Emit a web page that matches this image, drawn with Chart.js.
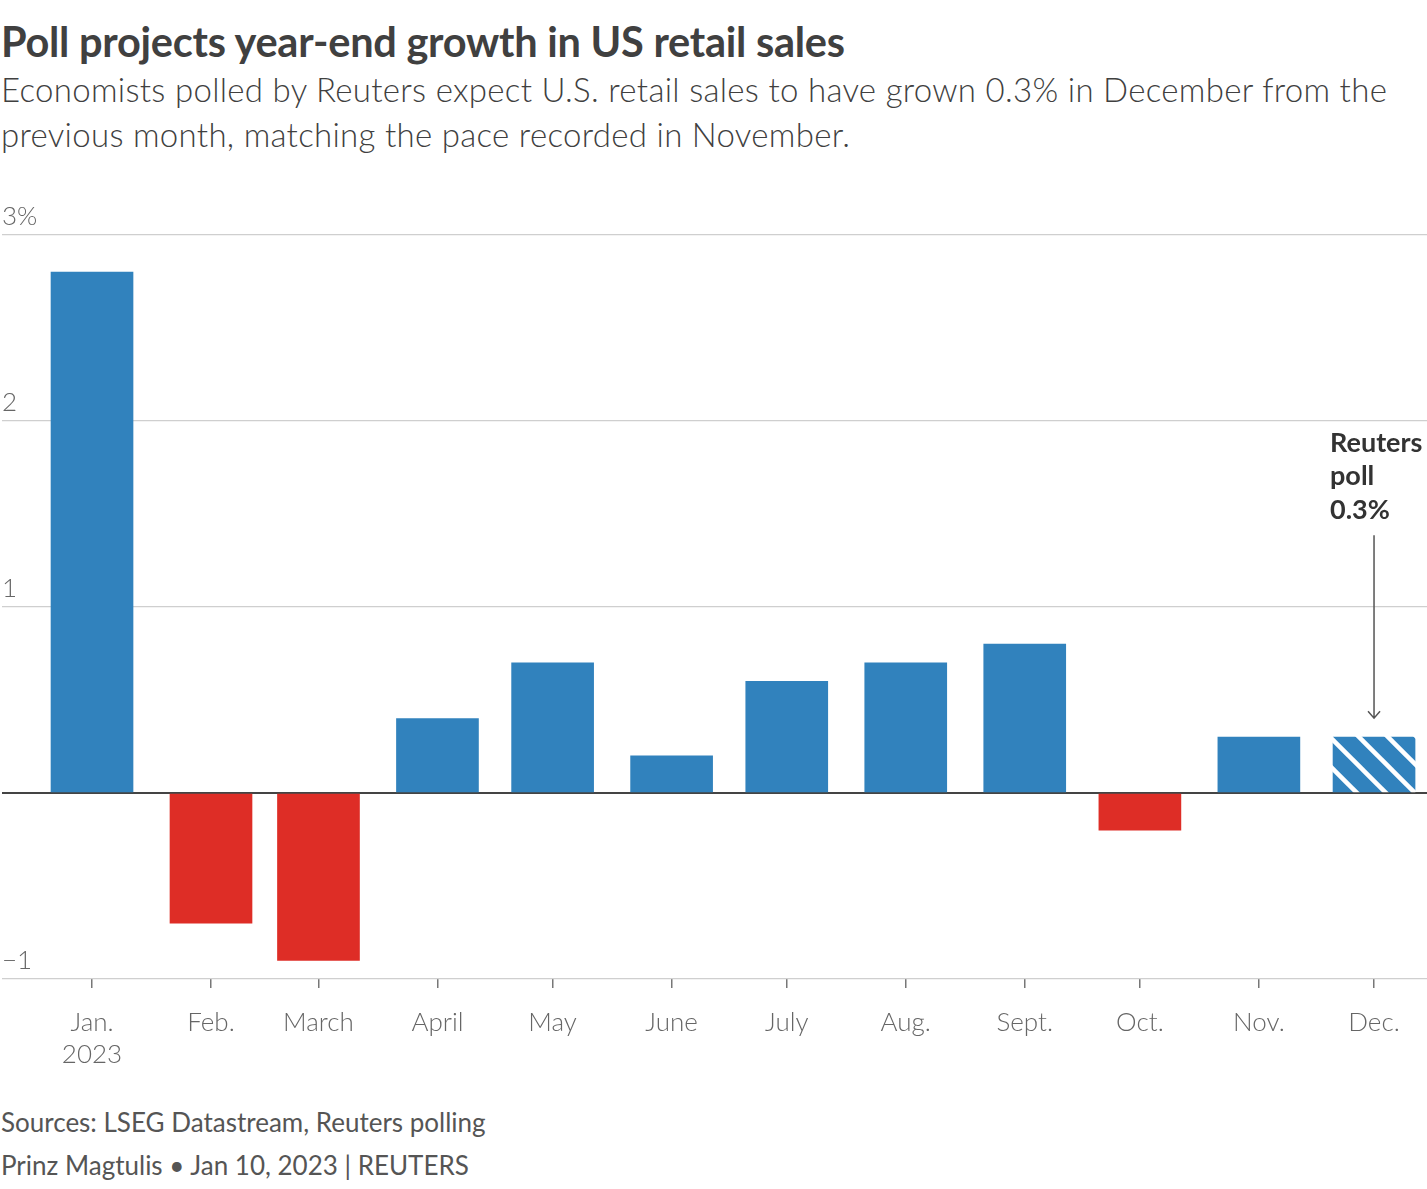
<!DOCTYPE html>
<html>
<head>
<meta charset="utf-8">
<script src="https://cdn.jsdelivr.net/npm/chart.js@4/dist/chart.umd.min.js"></script>
<style>
  html, body { margin: 0; padding: 0; background: #fff; }
  body { width: 1427px; height: 1189px; position: relative; overflow: hidden; font-family: Lato, "Open Sans", sans-serif; }
  #title { position: absolute; left: 1px; top: 16px; font-size: 41.5px; font-weight: 700; color: #404040; white-space: nowrap; letter-spacing: -0.25px; line-height: 50px; }
  #subtitle { position: absolute; left: 1px; top: 67px; width: 1410px; font-size: 33px; font-weight: 300; color: #404040; line-height: 45px; letter-spacing: 0.3px; }
  #chartbox { position: absolute; left: 0; top: 190px; width: 1427px; height: 890px; }
  .foot { position: absolute; left: 1px; font-size: 26px; color: #555; white-space: nowrap; }
</style>
</head>
<body>
<div id="title">Poll projects year-end growth in US retail sales</div>
<div id="subtitle">Economists polled by Reuters expect U.S. retail sales to have grown 0.3% in December from the<br>previous month, matching the pace recorded in November.</div>
<div id="chartbox"><canvas id="c"></canvas></div>
<div class="foot" style="top:1106px">Sources: LSEG Datastream, Reuters polling</div>
<div class="foot" style="top:1149px">Prinz Magtulis • Jan 10, 2023 | REUTERS</div>
<script>
// Month categories and their position (day of year of month start, 2023)
const months = ['Jan.', 'Feb.', 'March', 'April', 'May', 'June', 'July', 'Aug.', 'Sept.', 'Oct.', 'Nov.', 'Dec.'];
const monthStartDay = [0, 31, 59, 90, 120, 151, 181, 212, 243, 273, 304, 334];
// Month-over-month retail sales change, %
const salesChange = [2.8, -0.7, -0.9, 0.4, 0.7, 0.2, 0.6, 0.7, 0.8, -0.2, 0.3, 0.3];
const pollIndex = 11; // December = Reuters poll estimate
const yTickValues = [-1, 0, 1, 2, 3];
const yTickLabels = ['\u22121', '', '1', '2', '3%'];
const annotationLines = ['Reuters', 'poll', '0.3%'];

const BLUE = '#3182bd', RED = '#de2d26';
const FONT = 'Lato, "Open Sans", sans-serif';

function hatch() {
  const s = 29;
  const p = document.createElement('canvas');
  p.width = s; p.height = s;
  const g = p.getContext('2d');
  g.fillStyle = BLUE; g.fillRect(0, 0, s, s);
  g.strokeStyle = '#fff'; g.lineWidth = 4.5;
  for (let k = -1; k <= 1; k++) {
    g.beginPath();
    g.moveTo(k * s - 2, -2);
    g.lineTo(k * s + s + 2, s + 2);
    g.stroke();
  }
  return g.createPattern(p, 'repeat');
}
const pattern = hatch();

const colors = salesChange.map((v, i) => i === pollIndex ? pattern : (v < 0 ? RED : BLUE));

const annotationPlugin = {
  id: 'pollNote',
  afterDatasetsDraw(chart) {
    const { ctx, scales: { x, y } } = chart;
    const px = x.getPixelForValue(monthStartDay[pollIndex]);
    const top = y.getPixelForValue(salesChange[pollIndex]);
    ctx.save();
    ctx.fillStyle = '#333';
    ctx.font = '700 27px ' + FONT;
    ctx.textAlign = 'left';
    ctx.textBaseline = 'middle';
    annotationLines.forEach((t, i) => ctx.fillText(t, px - 44, top - 294 + i * 33.5));
    const y0 = top - 202, y1 = top - 19;
    ctx.strokeStyle = '#555';
    ctx.lineWidth = 1.5;
    ctx.beginPath();
    ctx.moveTo(px, y0); ctx.lineTo(px, y1);
    ctx.moveTo(px - 6, y1 - 7); ctx.lineTo(px, y1); ctx.lineTo(px + 6, y1 - 7);
    ctx.stroke();
    ctx.restore();
  }
};

new Chart(document.getElementById('c'), {
  type: 'bar',
  data: {
    datasets: [{
      data: monthStartDay.map((d, i) => ({ x: d, y: salesChange[i] })),
      backgroundColor: colors,
      borderWidth: 0,
      barThickness: 82
    }]
  },
  options: {
    responsive: true,
    maintainAspectRatio: false,
    animation: false,
    events: [],
    layout: { padding: { left: 2, right: 0, top: 45, bottom: 0 } },
    plugins: { legend: { display: false }, tooltip: { enabled: false } },
    scales: {
      x: {
        type: 'linear',
        offset: false,
        min: -23.45,
        max: 347.8,
        afterBuildTicks: (s) => { s.ticks = monthStartDay.map(v => ({ value: v })); },
        afterFit: (s) => { s.height = 101; },
        grid: { offset: false, drawOnChartArea: false, drawTicks: true, tickLength: 9, color: '#777', lineWidth: 1.5 },
        border: { display: false },
        ticks: {
          autoSkip: false,
          maxRotation: 0,
          padding: 18,
          color: '#666',
          font: { family: FONT, size: 26, weight: '300', lineHeight: 1.25 },
          callback: (v) => {
            const i = monthStartDay.indexOf(v);
            if (i < 0) return '';
            return i === 0 ? [months[i], '2023'] : months[i];
          }
        }
      },
      y: {
        min: -1,
        max: 3,
        afterBuildTicks: (s) => { s.ticks = yTickValues.map(v => ({ value: v })); },
        afterFit: (s) => { s.width = 0; },
        border: { display: false },
        grid: {
          drawTicks: false,
          color: (c) => c.tick && c.tick.value === 0 ? '#444' : '#cfcfcf',
          lineWidth: (c) => c.tick && c.tick.value === 0 ? 2 : 1.2
        },
        ticks: {
          mirror: true,
          padding: 0,
          labelOffset: -18,
          color: '#666',
          font: { family: FONT, size: 26, weight: '300' },
          callback: (v) => {
            const i = yTickValues.indexOf(v);
            return i < 0 ? '' : yTickLabels[i];
          }
        }
      }
    }
  },
  plugins: [annotationPlugin]
});
</script>
</body>
</html>
